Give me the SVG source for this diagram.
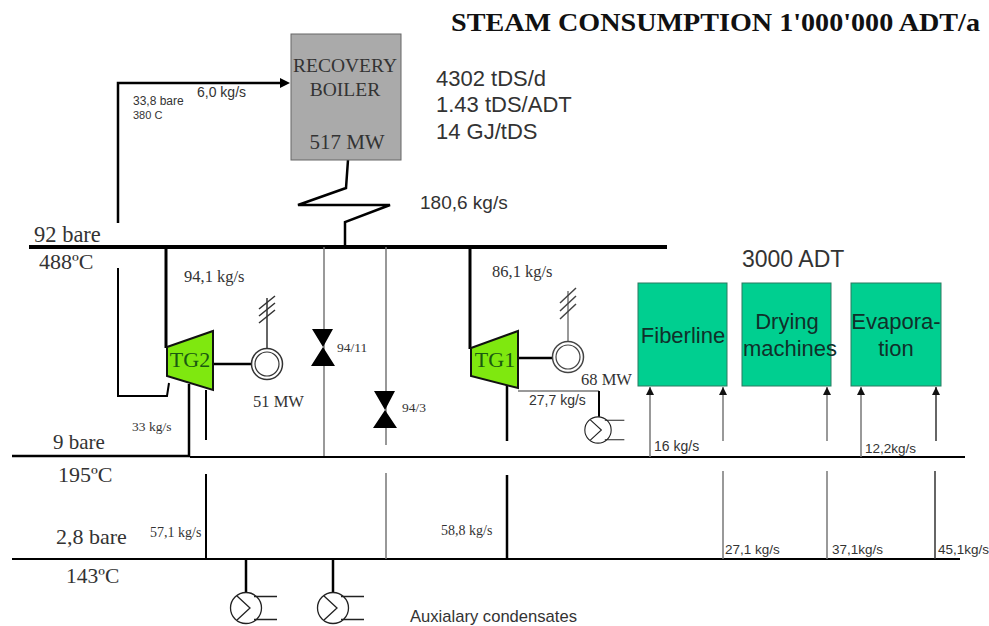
<svg xmlns="http://www.w3.org/2000/svg" width="989" height="626" viewBox="0 0 989 626">
<defs>
<marker id="ah" markerUnits="userSpaceOnUse" markerWidth="9" markerHeight="8" refX="8" refY="4" orient="auto"><path d="M0 0L8 4L0 8Z" fill="#111"/></marker>
<g id="hx"><circle cx="0" cy="0" r="15.5" fill="#fff" stroke="#222" stroke-width="1.3"/><path d="M-9 -12L4 0L-9 12M8 -11.5H31M8 11.5H31" fill="none" stroke="#222" stroke-width="1.3"/></g>
</defs>
<style>
.s{font-family:"Liberation Serif",serif;fill:#333}
.a{font-family:"Liberation Sans",sans-serif;fill:#333}
.n{font-family:"Liberation Sans",sans-serif;fill:#10302a}
.k{stroke:#000;fill:none}
.g{stroke:#777;fill:none;stroke-width:1.5}
.d{stroke:#333;fill:none;stroke-width:1.5}
.t{fill:#7fe80f;stroke:#111;stroke-width:2}
.b{fill:#00cf90;stroke:#2b7a60;stroke-width:1}
</style>
<rect width="989" height="626" fill="#fff"/>
<g id="connectors">
<path class="k" stroke-width="4" d="M29 247H667"/>
<path class="k" stroke-width="2.5" d="M12 456H190"/>
<path class="k" stroke-width="2" d="M190 457H965"/>
<path class="k" stroke-width="2" d="M12 559H960"/>
<path class="k" stroke-width="2.5" d="M118 223V83H281"/>
<path d="M290 83L280 78V88Z" fill="#000"/>
<path class="k" stroke-width="2.5" d="M348 160L346 188L298 205H390L345 222V247"/>
<path class="k" stroke-width="3" d="M166 247V348"/>
<path class="k" stroke-width="2" d="M118 268V396H167L169 383"/>
<path class="k" stroke-width="2.5" d="M189 384V457"/>
<path class="k" stroke-width="2" d="M206 390V440"/>
<path class="k" stroke-width="2" d="M206 474V559"/>
<path class="k" stroke-width="2.5" d="M212 364H252"/>
<path class="d" d="M267 348V298"/>
<path d="M259 309L275 296M259 316L275 303M259 323L275 310" stroke="#333" stroke-width="1.5" fill="none"/>
<path class="g" d="M324 247V456"/>
<path class="g" d="M386 247V445M386 473V559"/>
<path class="k" stroke-width="3" d="M470 247V349"/>
<path class="k" stroke-width="2.5" d="M507 385V441M507 475V559"/>
<path class="k" stroke-width="2.5" d="M515 358H552"/>
<path class="g" d="M568 341V291"/>
<path d="M560 303L576 288M560 311L576 296M560 319L576 304" stroke="#444" stroke-width="1.5" fill="none"/>
<path class="g" d="M518 391H599"/>
<path class="k" stroke-width="2" d="M599 391V418"/>
<path class="g" d="M650 457V387" marker-end="url(#ah)"/>
<path class="g" d="M723 441V387" marker-end="url(#ah)"/>
<path class="g" d="M723 471V559"/>
<path class="g" d="M827 441V387" marker-end="url(#ah)"/>
<path class="g" d="M827 471V559"/>
<path class="g" d="M861 457V387" marker-end="url(#ah)"/>
<path class="d" d="M936 441V387" marker-end="url(#ah)"/>
<path class="d" d="M935 471V559"/>
<path class="k" stroke-width="2.5" d="M246 559V592"/>
<path class="k" stroke-width="2.5" d="M333 559V592"/>
</g>
<g id="recovery-boiler">
<rect x="291" y="34" width="110" height="126" fill="#aaa" stroke="#666"/>
<text class="s" x="345" y="72" font-size="19.5" text-anchor="middle">RECOVERY</text>
<text class="s" x="345" y="96" font-size="19.5" text-anchor="middle">BOILER</text>
<text class="s" x="347" y="149" font-size="21" text-anchor="middle">517 MW</text>
</g>
<g id="TG2">
<path class="t" d="M167 347L213 331V390L167 376Z"/>
<text class="s" x="190" y="367" font-size="22" text-anchor="middle" style="fill:#1a5a10">TG2</text>
</g>
<g id="generator-2"><circle cx="267" cy="364" r="15.5" fill="#fff" stroke="#333" stroke-width="1.5"/><circle cx="267" cy="364" r="12" fill="#fff" stroke="#333" stroke-width="1.2"/></g>
<g id="valve-94-11"><path d="M312 329H333L323 347ZM323 347L335 366H311Z" fill="#000"/></g>
<g id="valve-94-3"><path d="M374 391H395L385 410ZM385 410L397 428H373Z" fill="#000"/></g>
<g id="TG1">
<path class="t" d="M471 348L518 331V388L471 376Z"/>
<text class="s" x="495" y="367" font-size="22" text-anchor="middle" style="fill:#1a5a10">TG1</text>
</g>
<g id="generator-1"><circle cx="568" cy="357" r="15.5" fill="#fff" stroke="#444" stroke-width="1.5"/><circle cx="568" cy="357" r="12" fill="#fff" stroke="#444" stroke-width="1.2"/></g>
<g id="fiberline"><rect class="b" x="638" y="283" width="89" height="103"/><text class="n" x="683" y="343" font-size="22" text-anchor="middle">Fiberline</text></g>
<g id="drying-machines"><rect class="b" x="742" y="283" width="89" height="103"/><text class="n" x="787" y="329" font-size="22" text-anchor="middle">Drying</text><text class="n" x="790" y="356" font-size="22" text-anchor="middle">machines</text></g>
<g id="evaporation"><rect class="b" x="851" y="283" width="90" height="103"/><text class="n" x="896" y="329" font-size="22" text-anchor="middle">Evapora-</text><text class="n" x="896" y="356" font-size="22" text-anchor="middle">tion</text></g>
<g id="condenser-1" transform="translate(598 430) scale(.85)"><use href="#hx"/></g>
<use id="condenser-2" href="#hx" x="246" y="608"/>
<use id="condenser-3" href="#hx" x="333" y="608"/>
<g id="labels">
<text x="451" y="31" font-family="Liberation Serif, serif" font-weight="bold" font-size="25" fill="#111" textLength="529" lengthAdjust="spacingAndGlyphs">STEAM CONSUMPTION 1'000'000 ADT/a</text>
<text class="a" x="436" y="86" font-size="22">4302 tDS/d</text>
<text class="a" x="436" y="112" font-size="22">1.43 tDS/ADT</text>
<text class="a" x="436" y="139" font-size="22">14 GJ/tDS</text>
<text class="a" x="197" y="97" font-size="14">6,0 kg/s</text>
<text class="a" x="133" y="105" font-size="12">33,8 bare</text>
<text class="a" x="133" y="119" font-size="11">380 C</text>
<text class="a" x="420" y="209" font-size="19">180,6 kg/s</text>
<text class="s" x="34" y="242" font-size="22.5">92 bare</text>
<text class="s" x="39" y="269" font-size="22">488ºC</text>
<text class="s" x="184" y="282" font-size="16.5">94,1 kg/s</text>
<text class="s" x="492" y="277" font-size="16.5">86,1 kg/s</text>
<text class="a" x="742" y="267" font-size="23">3000 ADT</text>
<text class="s" x="337" y="352" font-size="13.5">94/11</text>
<text class="s" x="402" y="412" font-size="13.5">94/3</text>
<text class="s" x="253" y="407" font-size="16.5">51 MW</text>
<text class="s" x="581" y="385" font-size="16.5">68 MW</text>
<text class="a" x="529" y="405" font-size="14">27,7 kg/s</text>
<text class="s" x="132" y="431" font-size="13.5">33 kg/s</text>
<text class="a" x="654" y="451" font-size="14">16 kg/s</text>
<text class="a" x="865" y="453" font-size="13.5">12,2kg/s</text>
<text class="s" x="53" y="449" font-size="21">9 bare</text>
<text class="s" x="58" y="482" font-size="22">195ºC</text>
<text class="s" x="56" y="544" font-size="22">2,8 bare</text>
<text class="s" x="66" y="583" font-size="21.5">143ºC</text>
<text class="s" x="150" y="537" font-size="14">57,1 kg/s</text>
<text class="s" x="441" y="535" font-size="14">58,8 kg/s</text>
<text class="a" x="725" y="554" font-size="13.5">27,1 kg/s</text>
<text class="a" x="832" y="554" font-size="13.5">37,1kg/s</text>
<text class="a" x="938" y="554" font-size="13.5">45,1kg/s</text>
<text class="a" x="410" y="622" font-size="16.6">Auxialary condensates</text>
</g>
</svg>
